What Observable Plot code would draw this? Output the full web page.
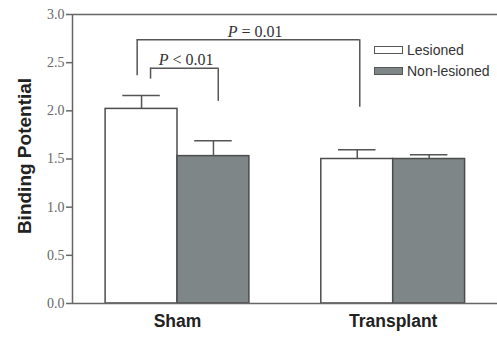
<!DOCTYPE html>
<html><head><meta charset="utf-8">
<script src="https://cdn.jsdelivr.net/npm/d3@7"></script>
<script src="https://cdn.jsdelivr.net/npm/@observablehq/plot@0.6"></script>
<style>
body{margin:0;background:#fff;}
#wrap{position:relative;width:497px;height:340px;}
.legend{position:absolute;left:374px;top:39px;font-family:"Liberation Sans",Arial,sans-serif;font-size:14px;color:#333;}
.row{display:flex;align-items:center;height:21px;}
.sw{box-sizing:border-box;width:29px;height:8px;border:1.5px solid #555;margin-right:4px;}
</style></head><body><div id="wrap"></div>
<script>
const groups = ["Sham", "Transplant"];
const series = ["Lesioned", "Non-lesioned"];
const lesioned = [2.02, 1.50];
const lesionedErr = [0.14, 0.095];
const nonLesioned = [1.53, 1.50];
const nonLesionedErr = [0.16, 0.045];
const seriesFill = ["#ffffff", "#7e8687"];
const yTicks = [0, 0.5, 1.0, 1.5, 2.0, 2.5, 3.0];
// significance brackets (x in group units, y in binding potential)
const brackets = [
  {label: "P < 0.01", left: -0.125, right: 0.189, top: 2.443, leftEnd: 2.329, rightEnd: 2.098, labelX: 0.04},
  {label: "P = 0.01", left: -0.187, right: 0.845, top: 2.738, leftEnd: 2.365, rightEnd: 2.038, labelX: 0.36}
];

const barW = 1 / 3;
const capHalf = 0.087;
const rows = [];
groups.forEach((g, i) => {
  [[lesioned, lesionedErr], [nonLesioned, nonLesionedErr]].forEach(([vals, errs], s) => {
    const x1 = i + (s === 0 ? -barW : 0);
    rows.push({group: g, series: series[s], value: vals[i], err: errs[i], x1, x2: x1 + barW, cx: x1 + barW / 2});
  });
});

const xDomain = [-0.4868, 1.4835];
const axisColor = "#666";

const plot = Plot.plot({
  width: 497, height: 340,
  marginLeft: 72, marginRight: 0, marginTop: 14, marginBottom: 37,
  x: {domain: xDomain},
  y: {domain: [0, 3]},
  color: {domain: series, range: seriesFill},
  style: {background: "white"},
  marks: [
    Plot.rectY(rows, {x1: "x1", x2: "x2", y: "value", fill: "series", stroke: "#4d4d4d", strokeWidth: 1.5}),
    Plot.ruleX(rows, {x: "cx", y1: "value", y2: d => d.value + d.err, stroke: "#555", strokeWidth: 1.5}),
    Plot.ruleY(rows, {x1: d => d.cx - capHalf, x2: d => d.cx + capHalf, y: d => d.value + d.err, stroke: "#555", strokeWidth: 1.5}),
    Plot.ruleY(brackets, {x1: "left", x2: "right", y: "top", stroke: "#555", strokeWidth: 1.5}),
    Plot.ruleX(brackets, {x: "left", y1: "top", y2: "leftEnd", stroke: "#555", strokeWidth: 1.5}),
    Plot.ruleX(brackets, {x: "right", y1: "top", y2: "rightEnd", stroke: "#555", strokeWidth: 1.5}),
    Plot.text(brackets, {x: "labelX", y: "top", text: "label", dy: -3, lineAnchor: "bottom", fontFamily: "Liberation Serif, Times New Roman, serif", fontSize: 16, fill: "#333"}),
    Plot.ruleY([0, 3], {stroke: axisColor, strokeWidth: 1.5}),
    Plot.ruleX([xDomain[0]], {stroke: axisColor, strokeWidth: 1.5}),
    Plot.axisY({ticks: yTicks, tickFormat: d3.format(".1f"), tickSize: 6, tickPadding: 2, label: null,
      stroke: axisColor, strokeWidth: 1.5, fill: "#666", fontFamily: "Liberation Serif, Times New Roman, serif", fontSize: 14}),
    Plot.axisX({ticks: [0, 1], tickFormat: i => groups[i], tickSize: 0, tickPadding: 11, label: null,
      fill: "#222", fontFamily: "Liberation Sans, Arial, sans-serif", fontSize: 17.5, fontWeight: "bold"}),
    Plot.text(["Binding Potential"], {frameAnchor: "left", dx: -48, dy: -3, rotate: -90, text: d => d,
      textAnchor: "middle", lineAnchor: "middle",
      fill: "#222", fontFamily: "Liberation Sans, Arial, sans-serif", fontSize: 19, fontWeight: "bold"})
  ]
});

// italicise the statistic symbol P
d3.select(plot).selectAll("text").each(function() {
  const t = this.textContent;
  if (/^P [<=]/.test(t)) {
    this.textContent = "";
    d3.select(this).append("tspan").attr("font-style", "italic").text("P");
    d3.select(this).append("tspan").text(t.slice(1));
  }
});

const wrap = document.getElementById("wrap");
wrap.appendChild(plot);
const legend = document.createElement("div");
legend.className = "legend";
series.forEach((s, i) => {
  const row = document.createElement("div");
  row.className = "row";
  const sw = document.createElement("span");
  sw.className = "sw";
  sw.style.background = seriesFill[i];
  const lab = document.createElement("span");
  lab.textContent = s;
  row.appendChild(sw); row.appendChild(lab);
  legend.appendChild(row);
});
wrap.appendChild(legend);
</script>
</body></html>
